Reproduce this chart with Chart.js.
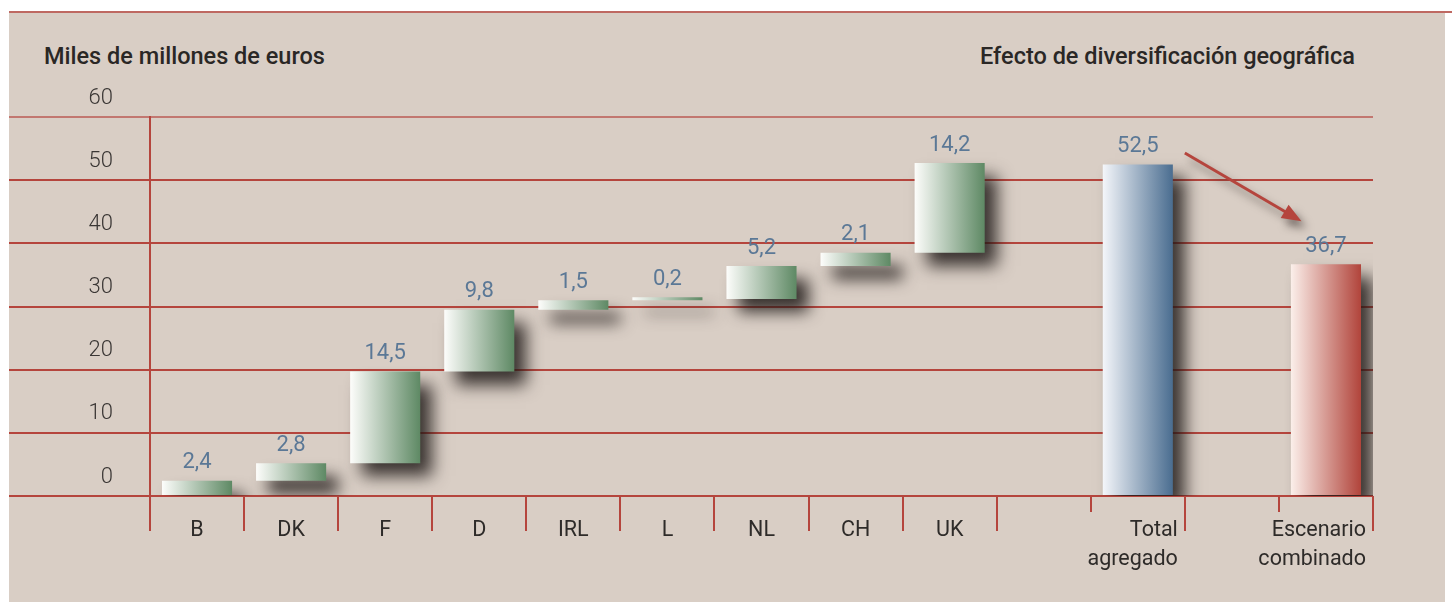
<!DOCTYPE html>
<html lang="es">
<head>
<meta charset="utf-8">
<title>Efecto de diversificación geográfica</title>
<script src="https://cdn.jsdelivr.net/npm/chart.js@4.4.1/dist/chart.umd.min.js"></script>
<style>
  html, body { margin: 0; padding: 0; background: #ffffff; }
  #wrap { position: relative; width: 1452px; height: 602px; overflow: hidden; }
  #panel { position: absolute; left: 9px; top: 12px; width: 1436px; height: 590px; background: #d9cec5; }
  #topline { position: absolute; left: 9px; top: 11px; width: 1443px; height: 2px; background: #bf6962; }
  .head { position: absolute; top: 42px; font: 500 23.5px Roboto, "Noto Sans", sans-serif; color: #2a2725; white-space: nowrap; }
  #headLeft { left: 44px; }
  #headRight { right: 97px; }
  #chartBox { position: absolute; left: 0; top: 0; width: 1452px; height: 602px; }
</style>
</head>
<body>
<div id="wrap">
  <div id="panel"></div>
  <div id="topline"></div>
  <div class="head" id="headLeft">Miles de millones de euros</div>
  <div class="head" id="headRight">Efecto de diversificación geográfica</div>
  <div id="chartBox"><canvas id="waterfall"></canvas></div>
</div>
<script>
// === DATA ===
const countries = ["B", "DK", "F", "D", "IRL", "L", "NL", "CH", "UK"];
const increments = [2.4, 2.8, 14.5, 9.8, 1.5, 0.2, 5.2, 2.1, 14.2];
const totalLabels = [["Total", "agregado"], ["Escenario", "combinado"]];
const totalValues = [52.5, 36.7];
const yTicks = [0, 10, 20, 30, 40, 50, 60];
// arrow annotation, in [category index, value]
const arrowFrom = [10.5, 54.3];
const arrowTo = [11.74, 43.5];

// === BUILD SLOTS (empty slot before each total) ===
const labels = [...countries];
const bars = [];
const shown = [];
const kinds = [];
let running = 0;
increments.forEach(v => {
  bars.push([running, running + v]);
  shown.push(v);
  kinds.push("green");
  running += v;
});
totalLabels.forEach((lab, i) => {
  labels.push("");
  bars.push(null);
  shown.push(null);
  kinds.push(null);
  labels.push(lab);
  bars.push([0, totalValues[i]]);
  shown.push(totalValues[i]);
  kinds.push(i === 0 ? "blue" : "red");
});

const RED = "#b5453d";
const FONT = "Roboto, 'Noto Sans', sans-serif";
const gradStops = {
  green: ["#fdfdfb", "#5e8964"],
  blue: ["#f4f6fa", "#4a6d90"],
  red: ["#fbefea", "#b1443b"]
};

const fmt = v => v.toFixed(1).replace(".", ",");

function barFill(c) {
  const kind = kinds[c.dataIndex];
  if (!kind) return "transparent";
  const chart = c.chart;
  const xs = chart.scales.x;
  if (!chart.chartArea || !xs) return gradStops[kind][1];
  const cx = xs.getPixelForValue(c.dataIndex);
  const w = (xs.width / labels.length) * 0.745;
  const g = chart.ctx.createLinearGradient(cx - w / 2, 0, cx + w / 2, 0);
  g.addColorStop(0, gradStops[kind][0]);
  g.addColorStop(1, gradStops[kind][1]);
  return g;
}

// shadows under the bars
const shadowPlugin = {
  id: "barShadow",
  beforeDatasetsDraw(chart) {
    const ctx = chart.ctx;
    ctx.save();
    ctx.shadowColor = "rgba(30,24,22,0.85)";
    ctx.shadowBlur = 16;
    ctx.shadowOffsetX = 12;
    ctx.shadowOffsetY = 13;
  },
  afterDatasetsDraw(chart) {
    chart.ctx.restore();
  }
};

// value labels, category labels, separators and arrow
const decorPlugin = {
  id: "decor",
  afterDatasetsDraw(chart) {
    const ctx = chart.ctx;
    const xs = chart.scales.x;
    const ys = chart.scales.y;
    const zero = ys.getPixelForValue(0);
    ctx.save();

    // separators under the axis
    ctx.strokeStyle = RED;
    ctx.lineWidth = 2;
    for (let i = 0; i <= labels.length; i++) {
      const x = Math.round(xs.getPixelForValue(i - 0.5));
      const shortTick = i < labels.length && Array.isArray(labels[i]);
      ctx.beginPath();
      ctx.moveTo(x, zero);
      ctx.lineTo(x, zero + (shortTick ? 16 : 35));
      ctx.stroke();
    }

    // value labels
    ctx.fillStyle = "#5b7896";
    ctx.font = "22px " + FONT;
    ctx.textAlign = "center";
    ctx.textBaseline = "middle";
    const meta = chart.getDatasetMeta(0);
    meta.data.forEach((el, i) => {
      if (shown[i] == null) return;
      const top = Math.min(el.y, el.base);
      ctx.fillText(fmt(shown[i]), el.x, top - 18);
    });

    // category labels
    ctx.fillStyle = "#2e2b29";
    ctx.font = "21.5px " + FONT;
    labels.forEach((lab, i) => {
      if (!lab) return;
      if (Array.isArray(lab)) {
        const right = xs.getPixelForValue(i + 0.5) - 7;
        ctx.textAlign = "right";
        lab.forEach((line, k) => ctx.fillText(line, right, zero + 35 + k * 29));
      } else {
        ctx.textAlign = "center";
        ctx.fillText(lab, xs.getPixelForValue(i), zero + 35);
      }
    });

    // arrow
    const x1 = xs.getPixelForValue(arrowFrom[0]);
    const y1 = ys.getPixelForValue(arrowFrom[1]);
    const x2 = xs.getPixelForValue(arrowTo[0]);
    const y2 = ys.getPixelForValue(arrowTo[1]);
    const ang = Math.atan2(y2 - y1, x2 - x1);
    const head = 21;
    ctx.shadowColor = "rgba(40,30,28,0.55)";
    ctx.shadowBlur = 8;
    ctx.shadowOffsetX = 5;
    ctx.shadowOffsetY = 7;
    ctx.strokeStyle = RED;
    ctx.fillStyle = RED;
    ctx.lineWidth = 3;
    ctx.beginPath();
    ctx.moveTo(x1, y1);
    ctx.lineTo(x2 - Math.cos(ang) * head * 0.8, y2 - Math.sin(ang) * head * 0.8);
    ctx.stroke();
    ctx.beginPath();
    ctx.moveTo(x2, y2);
    ctx.lineTo(x2 - head * Math.cos(ang - 0.38), y2 - head * Math.sin(ang - 0.38));
    ctx.lineTo(x2 - head * Math.cos(ang + 0.38), y2 - head * Math.sin(ang + 0.38));
    ctx.closePath();
    ctx.fill();

    ctx.restore();
  }
};

const ctx = document.getElementById("waterfall").getContext("2d");
new Chart(ctx, {
  type: "bar",
  data: {
    labels: labels,
    datasets: [{
      data: bars,
      backgroundColor: barFill,
      borderWidth: 0,
      borderSkipped: false,
      minBarLength: 3,
      barPercentage: 0.745,
      categoryPercentage: 1
    }]
  },
  options: {
    responsive: true,
    maintainAspectRatio: false,
    animation: false,
    layout: { padding: { left: 9, right: 79, top: 117, bottom: 0 } },
    plugins: {
      legend: { display: false },
      title: { display: false },
      tooltip: { enabled: false }
    },
    scales: {
      x: {
        afterFit: s => { s.height = 106; },
        grid: { display: false },
        border: { display: false },
        ticks: { display: false }
      },
      y: {
        min: 0,
        max: 60,
        afterFit: s => { s.width = 141; },
        afterBuildTicks: s => { s.ticks = yTicks.map(v => ({ value: v })); },
        border: { display: true, color: RED, width: 2 },
        grid: {
          color: c => (c.tick && c.tick.value === 60 ? "#c27770" : RED),
          tickColor: c => (c.tick && c.tick.value === 60 ? "#c27770" : RED),
          lineWidth: 2,
          tickLength: 141
        },
        ticks: {
          padding: -104,
          labelOffset: -19,
          color: "#3a3634",
          font: { family: FONT, size: 22, weight: 300 },
          callback: v => v
        }
      }
    }
  },
  plugins: [shadowPlugin, decorPlugin]
});
</script>
</body>
</html>
